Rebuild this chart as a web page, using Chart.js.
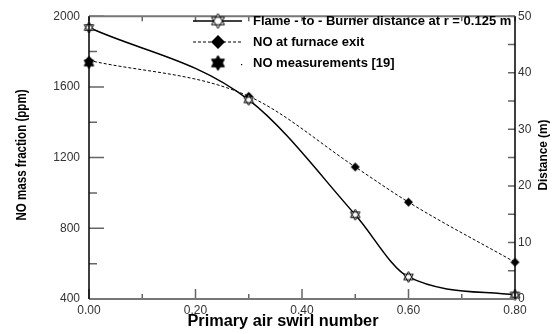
<!DOCTYPE html>
<html>
<head>
<meta charset="utf-8">
<script src="https://cdn.jsdelivr.net/npm/chart.js@4.4.0/dist/chart.umd.min.js"></script>
<style>
  html, body { margin: 0; padding: 0; background: #fff; }
</style>
</head>
<body>
<canvas id="noChart" width="554" height="334"></canvas>
<script>
// primary air swirl number vs. NO (left axis, ppm) and flame distance (right axis, m)
const swirl = [0.0, 0.3, 0.5, 0.6, 0.8];
const flameDistance = [48.0, 35.2, 14.9, 3.9, 0.7];
const noExit = [1750, 1547, 1147, 948, 608];
const measuredSwirl = [0.0];
const noMeasured = [1735];
const seriesLabels = [
    'Flame - to - Burner distance at r = 0.125 m',
    'NO at furnace exit',
    'NO measurements [19]'
];
const xTitle = 'Primary air swirl number';
const yLeftTitle = 'NO mass fraction (ppm)';
const yRightTitle = 'Distance (m)';

const FONT = '"Liberation Sans", Arial, sans-serif';

// six-pointed star marker drawn as two overlapping triangles
function hexagram(r, filled) {
    const c = document.createElement('canvas');
    const s = Math.ceil(2 * r + 4);
    c.width = c.height = s;
    const g = c.getContext('2d');
    const tri = (a0) => {
        g.beginPath();
        for (let k = 0; k < 3; k++) {
            const a = (a0 + k * 120) * Math.PI / 180;
            const x = s / 2 + r * Math.cos(a), y = s / 2 + r * Math.sin(a);
            k ? g.lineTo(x, y) : g.moveTo(x, y);
        }
        g.closePath();
    };
    g.fillStyle = filled ? '#000' : '#fff';
    g.strokeStyle = '#000';
    g.lineWidth = 1;
    tri(-90); g.fill();
    tri(90); g.fill();
    tri(-90); g.stroke();
    tri(90); g.stroke();
    return c;
}

function diamond(r) {
    const c = document.createElement('canvas');
    const s = Math.ceil(2 * r + 2);
    c.width = c.height = s;
    const g = c.getContext('2d');
    g.fillStyle = '#000';
    g.beginPath();
    g.moveTo(s / 2, s / 2 - r);
    g.lineTo(s / 2 + r, s / 2);
    g.lineTo(s / 2, s / 2 + r);
    g.lineTo(s / 2 - r, s / 2);
    g.closePath();
    g.fill();
    return c;
}

const markers = [hexagram(5.5, false), diamond(4.5), hexagram(5.5, true)];
const legendMarkers = [hexagram(7.5, false), diamond(7), hexagram(7.5, true)];
const dashes = [[], [3, 2], []];

// inward tick marks and the plot frame
const frameAndTicks = {
    id: 'frameAndTicks',
    afterDraw(chart) {
        const { ctx, chartArea: a, scales } = chart;
        ctx.save();
        ctx.strokeStyle = '#666';
        ctx.lineWidth = 1.5;
        const xs = scales.x, yl = scales.yNO, yr = scales.yDist;
        ctx.beginPath();
        xs.ticks.forEach(t => {
            const px = xs.getPixelForValue(t.value);
            const major = Math.round(t.value * 10) % 2 === 0;
            ctx.moveTo(px, a.bottom);
            ctx.lineTo(px, a.bottom - (major ? 10 : 5));
            ctx.moveTo(px, a.top);
            ctx.lineTo(px, a.top + 5);
        });
        yl.ticks.forEach(t => {
            const py = yl.getPixelForValue(t.value);
            const major = t.value % 400 === 0;
            ctx.moveTo(a.left, py);
            ctx.lineTo(a.left + (major ? 15 : 8), py);
        });
        yr.ticks.forEach(t => {
            const py = yr.getPixelForValue(t.value);
            ctx.moveTo(a.right, py);
            ctx.lineTo(a.right - 7, py);
        });
        ctx.stroke();

        ctx.lineWidth = 2;
        ctx.strokeStyle = '#777';
        ctx.beginPath();
        ctx.moveTo(a.left, a.top); ctx.lineTo(a.right, a.top);
        ctx.moveTo(a.left, a.bottom); ctx.lineTo(a.right, a.bottom);
        ctx.stroke();
        ctx.lineWidth = 1.5;
        ctx.strokeStyle = '#000';
        ctx.beginPath();
        ctx.moveTo(a.left, a.top); ctx.lineTo(a.left, a.bottom);
        ctx.moveTo(a.right, a.top); ctx.lineTo(a.right, a.bottom);
        ctx.stroke();
        ctx.restore();
    }
};

// condensed bold text, squeezed to a given length
function squeezedText(ctx, text, x, y, size, length, angle) {
    ctx.save();
    ctx.font = 'bold ' + size + 'px ' + FONT;
    const w = ctx.measureText(text).width;
    ctx.translate(x, y);
    ctx.rotate(angle);
    ctx.scale(length / w, 1);
    ctx.fillStyle = '#000';
    ctx.textAlign = 'center';
    ctx.textBaseline = 'middle';
    ctx.fillText(text, 0, 0);
    ctx.restore();
}

const axisTitles = {
    id: 'axisTitles',
    afterDraw(chart) {
        const { ctx } = chart;
        squeezedText(ctx, yLeftTitle, 22, 155, 14, 131, -Math.PI / 2);
        squeezedText(ctx, yRightTitle, 543, 155, 13, 71, -Math.PI / 2);
        squeezedText(ctx, xTitle, 283, 322, 16, 191, 0);
    }
};

// legend box in the upper right of the plot
const insetLegend = {
    id: 'insetLegend',
    afterDraw(chart) {
        const { ctx } = chart;
        const rows = [21, 42, 63];
        ctx.save();
        chart.data.datasets.forEach((ds, i) => {
            const y = rows[i];
            if (ds.showLine !== false) {
                ctx.beginPath();
                ctx.setLineDash(dashes[i]);
                ctx.lineWidth = ds.borderWidth;
                ctx.strokeStyle = '#000';
                ctx.moveTo(193, y);
                ctx.lineTo(242, y);
                ctx.stroke();
                ctx.setLineDash([]);
            } else {
                ctx.fillStyle = '#000';
                ctx.fillRect(241, y + 1, 1.2, 1.2);
            }
            const m = legendMarkers[i];
            ctx.drawImage(m, 218 - m.width / 2, y - m.height / 2);
            ctx.fillStyle = '#000';
            ctx.font = 'bold 13px ' + FONT;
            ctx.textBaseline = 'middle';
            ctx.textAlign = 'left';
            ctx.fillText(ds.label, 253, y);
        });
        ctx.restore();
    }
};

const ctx = document.getElementById('noChart').getContext('2d');
new Chart(ctx, {
    type: 'scatter',
    data: {
        datasets: [
            {
                label: seriesLabels[0],
                data: swirl.map((s, i) => ({ x: s, y: flameDistance[i] })),
                yAxisID: 'yDist',
                showLine: true,
                borderColor: '#000',
                borderWidth: 1.5,
                cubicInterpolationMode: 'monotone',
                pointStyle: markers[0],
                clip: false
            },
            {
                label: seriesLabels[1],
                data: swirl.map((s, i) => ({ x: s, y: noExit[i] })),
                yAxisID: 'yNO',
                showLine: true,
                borderColor: '#000',
                borderWidth: 1,
                borderDash: dashes[1],
                cubicInterpolationMode: 'monotone',
                pointStyle: markers[1],
                clip: false
            },
            {
                label: seriesLabels[2],
                data: measuredSwirl.map((s, i) => ({ x: s, y: noMeasured[i] })),
                yAxisID: 'yNO',
                showLine: false,
                pointStyle: markers[2],
                clip: false
            }
        ]
    },
    options: {
        responsive: false,
        animation: false,
        events: [],
        layout: { padding: { top: 12, left: 0, right: 0, bottom: 0 } },
        plugins: { legend: { display: false }, tooltip: { enabled: false } },
        scales: {
            x: {
                type: 'linear',
                min: 0,
                max: 0.8,
                grid: { display: false, drawTicks: false },
                border: { display: false },
                ticks: {
                    stepSize: 0.1,
                    autoSkip: false,
                    maxRotation: 0,
                    padding: 4,
                    color: '#333',
                    font: { family: FONT, size: 12 },
                    callback: v => Math.round(v * 10) % 2 === 0 ? v.toFixed(2) : ''
                },
                afterFit: s => { s.height = 35; }
            },
            yNO: {
                position: 'left',
                min: 400,
                max: 2000,
                grid: { display: false, drawTicks: false },
                border: { display: false },
                ticks: {
                    stepSize: 200,
                    autoSkip: false,
                    padding: 9,
                    color: '#333',
                    font: { family: FONT, size: 12 },
                    callback: v => v % 400 === 0 ? v : ''
                },
                afterFit: s => { s.width = 89; }
            },
            yDist: {
                position: 'right',
                min: 0,
                max: 50,
                grid: { display: false, drawTicks: false },
                border: { display: false },
                ticks: {
                    stepSize: 5,
                    autoSkip: false,
                    padding: 3,
                    color: '#333',
                    font: { family: FONT, size: 12 },
                    callback: v => v % 10 === 0 ? v : ''
                },
                afterFit: s => { s.width = 39; }
            }
        }
    },
    plugins: [frameAndTicks, axisTitles, insetLegend]
});
</script>
</body>
</html>
